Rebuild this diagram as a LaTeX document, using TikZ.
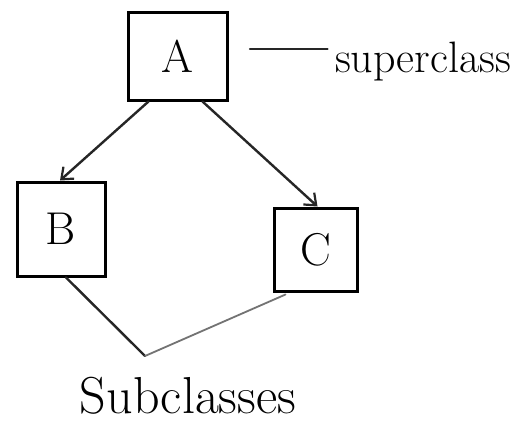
\documentclass[tikz,border=0pt]{standalone}
\usepackage{fontspec}
\usetikzlibrary{arrows.meta}
\begin{document}
\begin{tikzpicture}[x=1pt,y=1pt,
  classbox/.style={draw=black, line width=3pt, inner sep=0pt, font=\fontsize{46}{46}\selectfont},
  link/.style={line width=2.4pt, draw=black!85, line cap=round},
  inherit/.style={link, -{Straight Barb[length=10pt,width=16pt,line width=2.2pt]}},
  label/.style={anchor=center}]
  \useasboundingbox (0,0) rectangle (523,-429);
  \fill[white] (0,0) rectangle (523,-429);

  % class boxes
  \node[classbox, minimum width=99pt, minimum height=88pt] (A) at (177.5,-56) {A};
  \node[classbox, minimum width=88pt, minimum height=94pt] (B) at (61,-229) {B};
  \node[classbox, minimum width=83pt, minimum height=83pt] (C) at (315.5,-249.5) {C};

  % inheritance arrows
  \draw[inherit] ([xshift=-29pt]A.south) -- ([xshift=-1pt]B.north);
  \draw[inherit] ([xshift=25pt]A.south) -- ([xshift=2pt]C.north);

  % superclass label
  \node[label, font=\fontsize{44}{44}\selectfont] (sup) at (423,-62) {superclass};
  \coordinate (supend) at (250,-49);
  \draw[link] (supend) -- ([xshift=-4pt,yshift=13pt]sup.west);

  % curve joining the two subclasses
  \coordinate (bottom) at (145,-356);
  \draw[link, rounded corners=6pt] ([xshift=5pt]B.south) -- ([xshift=-6pt,yshift=6pt]bottom) -- (bottom);
  \draw[line width=1.8pt, draw=black!55, line cap=round] (bottom) -- ([xshift=-30pt,yshift=-2pt]C.south);

  \node[label, font=\fontsize{52}{52}\selectfont] (sub) at (188,-396) {Subclasses};
\end{tikzpicture}
\end{document}
